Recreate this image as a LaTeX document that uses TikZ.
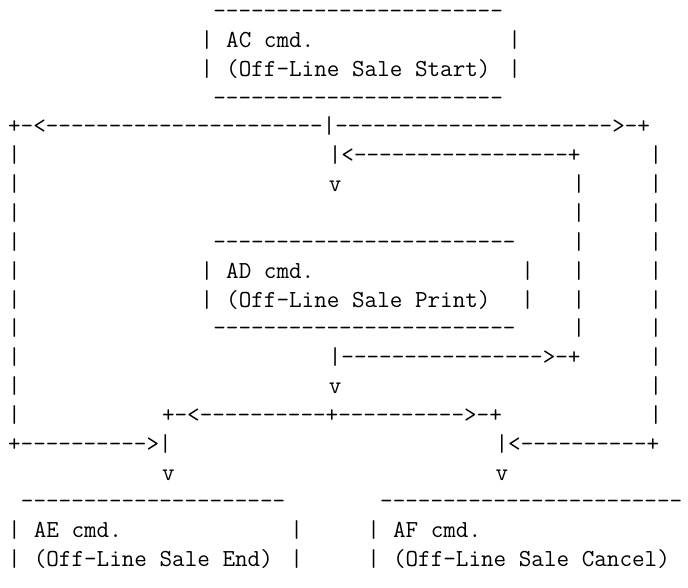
\documentclass[tikz,border=0pt]{standalone}
\usepackage{fontspec}
\ExplSyntaxOn
\NewDocumentCommand\dsh{m}{\prg_replicate:nn{#1}{-}}
\ExplSyntaxOff
\tikzset{
  seg/.style={anchor=base west, inner sep=0pt, outer sep=0pt, text=black,
    font=\ttfamily\fontsize{24.44pt}{28.85pt}\selectfont}
}
\begin{document}
\begin{tikzpicture}
\useasboundingbox (0pt,0pt) rectangle (688pt,-588pt);
\begin{scope}[shift={(8.1pt,-18.5pt)}, x=12.83pt, y=-28.85pt]
% AC box
\node[seg] (acTop)   at (16,0) {\dsh{23}};
\node[seg] (acL1)    at (15,1) {|};
\node[seg] (acT1)    at (17,1) {AC cmd.};
\node[seg] (acR1)    at (39,1) {|};
\node[seg] (acL2)    at (15,2) {|};
\node[seg] (acT2)    at (17,2) {(Off-Line Sale Start)};
\node[seg] (acR2)    at (39,2) {|};
\node[seg] (acBot)   at (16,3) {\dsh{23}};
% split line
\node[seg] (split)   at (0,4) {+-<\dsh{22}|\dsh{22}>-+};
% row 5
\node[seg] (l5)      at (0,5) {|};
\node[seg] (loopTop) at (25,5) {|<\dsh{17}+};
\node[seg] (r5)      at (50,5) {|};
% row 6
\node[seg] (l6)      at (0,6) {|};
\node[seg] (v6)      at (25,6) {v};
\node[seg] (m6)      at (44,6) {|};
\node[seg] (r6)      at (50,6) {|};
% row 7
\node[seg] (l7)      at (0,7) {|};
\node[seg] (m7)      at (44,7) {|};
\node[seg] (r7)      at (50,7) {|};
% row 8 AD box top
\node[seg] (l8)      at (0,8) {|};
\node[seg] (adTop)   at (16,8) {\dsh{24}};
\node[seg] (m8)      at (44,8) {|};
\node[seg] (r8)      at (50,8) {|};
% row 9
\node[seg] (l9)      at (0,9) {|};
\node[seg] (adL1)    at (15,9) {|};
\node[seg] (adT1)    at (17,9) {AD cmd.};
\node[seg] (adR1)    at (40,9) {|};
\node[seg] (m9)      at (44,9) {|};
\node[seg] (r9)      at (50,9) {|};
% row 10
\node[seg] (l10)     at (0,10) {|};
\node[seg] (adL2)    at (15,10) {|};
\node[seg] (adT2)    at (17,10) {(Off-Line Sale Print)};
\node[seg] (adR2)    at (40,10) {|};
\node[seg] (m10)     at (44,10) {|};
\node[seg] (r10)     at (50,10) {|};
% row 11
\node[seg] (l11)     at (0,11) {|};
\node[seg] (adBot)   at (16,11) {\dsh{24}};
\node[seg] (m11)     at (44,11) {|};
\node[seg] (r11)     at (50,11) {|};
% row 12
\node[seg] (l12)     at (0,12) {|};
\node[seg] (loopBot) at (25,12) {|\dsh{16}>-+};
\node[seg] (r12)     at (50,12) {|};
% row 13
\node[seg] (l13)     at (0,13) {|};
\node[seg] (v13)     at (25,13) {v};
\node[seg] (r13)     at (50,13) {|};
% row 14
\node[seg] (l14)     at (0,14) {|};
\node[seg] (split2)  at (12,14) {+-<\dsh{10}+\dsh{10}>-+};
\node[seg] (r14)     at (50,14) {|};
% row 15
\node[seg] (joinL)   at (0,15) {+\dsh{10}>|};
\node[seg] (joinR)   at (38,15) {|<\dsh{10}+};
% row 16
\node[seg] (vL)      at (12,16) {v};
\node[seg] (vR)      at (38,16) {v};
% AE / AF boxes
\node[seg] (aeTop)   at (1,17) {\dsh{21}};
\node[seg] (afTop)   at (29,17) {\dsh{24}};
\node[seg] (aeL1)    at (0,18) {|};
\node[seg] (aeT1)    at (2,18) {AE cmd.};
\node[seg] (aeR1)    at (22,18) {|};
\node[seg] (afL1)    at (28,18) {|};
\node[seg] (afT1)    at (30,18) {AF cmd.};
\node[seg] (aeL2)    at (0,19) {|};
\node[seg] (aeT2)    at (2,19) {(Off-Line Sale End)};
\node[seg] (aeR2)    at (22,19) {|};
\node[seg] (afL2)    at (28,19) {|};
\node[seg] (afT2)    at (30,19) {(Off-Line Sale Cancel)};
\end{scope}
\end{tikzpicture}
\end{document}
